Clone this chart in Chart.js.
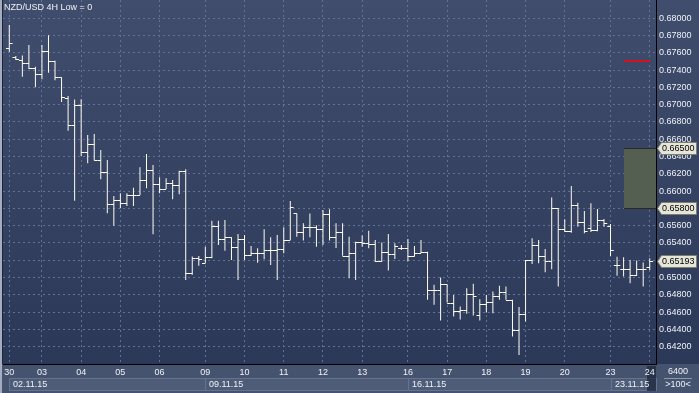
<!DOCTYPE html>
<html>
<head>
<meta charset="utf-8">
<script src="https://cdn.jsdelivr.net/npm/chart.js@4.4.0/dist/chart.umd.min.js"></script>
<style>
  html, body { margin: 0; padding: 0; background: #2d3958; }
  canvas { display: block; }
</style>
</head>
<body>
<canvas id="chart" width="699" height="393"></canvas>
<script>
// NZD/USD 4H - barras OHLC

const openP = [0.67658,0.67554,0.67516,0.67481,0.67423,0.67354,0.67616,0.67508,0.67316,0.6708,
  0.66763,0.66995,0.66452,0.66544,0.66362,0.66221,0.65851,0.65897,0.65859,0.6596,
  0.6596,0.66128,0.66244,0.66079,0.66028,0.6609,0.66067,0.66236,0.65057,0.65231,
  0.65165,0.65235,0.65596,0.65443,0.65466,0.6535,0.65443,0.65258,0.65288,0.65281,
  0.65319,0.65319,0.65327,0.65435,0.65742,0.65527,0.65582,0.65582,0.65558,0.65735,
  0.65473,0.65531,0.65253,0.65281,0.65408,0.65404,0.65388,0.65188,0.65299,0.65273,
  0.65346,0.65339,0.65253,0.65281,0.65296,0.64857,0.64857,0.64923,0.6471,0.64614,
  0.64626,0.64808,0.64561,0.64691,0.64722,0.64788,0.64831,0.64742,0.64392,0.64577,
  0.65204,0.65377,0.6525,0.65196,0.658,0.65558,0.65535,0.65838,0.65638,0.65573,
  0.6555,0.65665,0.656,0.6514,0.651,0.651,0.65027,0.651,0.65119];

const highP = [0.6792,0.67562,0.67568,0.67689,0.67438,0.67689,0.67801,0.67508,0.67316,0.67099,
  0.67059,0.67061,0.66649,0.6666,0.66475,0.6636,0.65943,0.65975,0.65975,0.66039,
  0.66275,0.66429,0.66302,0.66159,0.66148,0.66128,0.66236,0.66252,0.65242,0.6525,
  0.65357,0.65658,0.65658,0.65666,0.65466,0.65504,0.65493,0.65365,0.65339,0.65558,
  0.65466,0.65493,0.65582,0.65884,0.65742,0.65627,0.65742,0.65605,0.65782,0.65789,
  0.65628,0.65628,0.65473,0.65415,0.65485,0.65542,0.65435,0.65404,0.65504,0.65396,
  0.65377,0.65446,0.65365,0.65435,0.65299,0.64916,0.65001,0.64923,0.64799,0.64664,
  0.64877,0.64927,0.64749,0.64799,0.64838,0.64904,0.64896,0.64742,0.64658,0.65204,
  0.65454,0.65435,0.65331,0.65927,0.658,0.65673,0.66058,0.65865,0.65769,0.65858,
  0.65792,0.65677,0.6562,0.6524,0.65235,0.65204,0.65196,0.65173,0.65223];

const lowP = [0.67612,0.67516,0.67323,0.67412,0.672,0.67292,0.67369,0.67281,0.6703,0.66698,
  0.65889,0.66406,0.66321,0.66355,0.66136,0.65743,0.656,0.65801,0.65828,0.65828,
  0.65955,0.66032,0.65501,0.65974,0.66025,0.65905,0.65963,0.64972,0.65031,0.65137,
  0.65165,0.65223,0.65377,0.65311,0.65204,0.64972,0.65204,0.6525,0.65172,0.65211,
  0.65146,0.64972,0.65281,0.65435,0.65473,0.65427,0.65466,0.65357,0.65376,0.65427,
  0.65342,0.65253,0.64992,0.64972,0.65357,0.65339,0.6518,0.65184,0.6508,0.65215,
  0.65319,0.65188,0.65242,0.65281,0.64743,0.64685,0.64503,0.6471,0.64549,0.64514,
  0.6458,0.64561,0.64503,0.64595,0.64588,0.64742,0.64742,0.64319,0.64104,0.64492,
  0.65158,0.65165,0.65062,0.65096,0.64896,0.65527,0.65519,0.65588,0.65512,0.65527,
  0.65535,0.65588,0.6525,0.6502,0.65012,0.64935,0.65019,0.64896,0.65088];

const closeP = [0.67709,0.67524,0.67478,0.67429,0.67354,0.67616,0.67508,0.67316,0.67084,0.66762,
  0.66995,0.66452,0.66544,0.66362,0.66221,0.65851,0.65897,0.65859,0.6596,0.6596,
  0.66128,0.66244,0.66079,0.66028,0.6609,0.66067,0.66236,0.65057,0.65231,0.65219,
  0.65235,0.65596,0.65443,0.65466,0.6535,0.65443,0.65258,0.65288,0.65281,0.65319,
  0.65319,0.65327,0.65435,0.65811,0.65527,0.65582,0.65582,0.65558,0.65735,0.65473,
  0.65531,0.65253,0.65281,0.65408,0.65404,0.65388,0.65188,0.65299,0.65273,0.65365,
  0.65339,0.65253,0.65281,0.65296,0.64857,0.64857,0.64923,0.6471,0.64614,0.64626,
  0.64808,0.64788,0.64691,0.64722,0.64788,0.64831,0.64742,0.64392,0.64577,0.65204,
  0.65377,0.6525,0.65196,0.658,0.65558,0.65535,0.65838,0.65638,0.65538,0.6555,
  0.65665,0.65627,0.6532,0.6514,0.651,0.65027,0.651,0.651,0.65193];

// ticks del eje X (inicio de cada dia) y semanas
const dayTickIdx = [0, 5, 11, 17, 23, 30, 36, 42, 48, 54, 61, 67, 73, 79, 85, 92, 98];
const dayLabels = ['30','03','04','05','06','09','10','11','12','13','16','17','18','19','20','23','24'];
const weekIdx = [0, 30, 61, 92];
const weekLabels = ['02.11.15', '09.11.15', '16.11.15', '23.11.15'];

// ticks del eje Y
const priceTicks = [0.642,0.644,0.646,0.648,0.650,0.652,0.654,0.656,0.658,0.660,
  0.662,0.664,0.666,0.668,0.670,0.672,0.674,0.676,0.678,0.680];

// niveles marcados
const zoneTop = 0.665;
const zoneBottom = 0.658;
const redLevel = 0.675;
const lastPrice = 0.65193;

const barColor = '#fffdf2';
const textColor = '#eef1f7';
const FONT = '"Liberation Sans", Arial, sans-serif';

const rangeData = highP.map((h, i) => ({ x: i, y: [lowP[i], h] }));

// fondo: degradado, franja inferior y cajas de semana
const backgroundPlugin = {
  id: 'backgroundPlugin',
  beforeDraw(chart) {
    const ctx = chart.ctx;
    const area = chart.chartArea;
    const xs = chart.scales.x;
    ctx.save();
    const grad = ctx.createLinearGradient(0, 0, 0, area.bottom);
    grad.addColorStop(0, '#404d6c');
    grad.addColorStop(1, '#2c3857');
    ctx.fillStyle = grad;
    ctx.fillRect(0, 0, chart.width, area.bottom);

    // franja del eje X
    ctx.fillStyle = '#46536f';
    ctx.fillRect(0, area.bottom, chart.width, chart.height - area.bottom);

    // borde izquierdo claro
    ctx.fillStyle = '#a3adbf';
    ctx.fillRect(0, 0, 2, chart.height);
    ctx.fillStyle = '#1c2436';
    ctx.fillRect(2, 0, 1, area.bottom);

    // cajas de semana
    const rowTop = area.bottom + 14;
    for (let k = 0; k < weekIdx.length; k++) {
      const x0 = Math.round(xs.getPixelForValue(weekIdx[k]));
      const x1 = k + 1 < weekIdx.length ? Math.round(xs.getPixelForValue(weekIdx[k + 1])) : area.right;
      ctx.fillStyle = '#4f5c78';
      ctx.fillRect(x0, rowTop, x1 - x0, 12);
      ctx.strokeStyle = '#66738e';
      ctx.lineWidth = 1;
      ctx.strokeRect(x0 + 0.5, rowTop + 0.5, x1 - x0, 12);
    }

    // columna oscura del dia en curso
    const xl = Math.round(xs.getPixelForValue(97.6));
    ctx.fillStyle = 'rgba(30, 40, 62, 0.75)';
    ctx.fillRect(xl, area.bottom + 2, area.right - xl, chart.height - area.bottom - 4);
    ctx.restore();
  }
};

// zona verde y linea roja
const levelsPlugin = {
  id: 'levelsPlugin',
  beforeDatasetsDraw(chart) {
    const ctx = chart.ctx;
    const xs = chart.scales.x, ys = chart.scales.y;
    const area = chart.chartArea;
    const zx = Math.round(xs.getPixelForValue(94.1));
    const yTop = Math.round(ys.getPixelForValue(zoneTop));
    const yBot = Math.round(ys.getPixelForValue(zoneBottom));
    ctx.save();
    ctx.fillStyle = '#545e51';
    ctx.fillRect(zx, yTop, area.right - zx, yBot - yTop);
    ctx.fillStyle = '#262b26';
    ctx.fillRect(zx, yTop, area.right - zx, 1);
    ctx.fillRect(zx, yBot, area.right - zx, 1);

    const ry = Math.round(ys.getPixelForValue(redLevel));
    const rx0 = Math.round(xs.getPixelForValue(94.1));
    const rx1 = Math.round(xs.getPixelForValue(98.0));
    ctx.fillStyle = '#d6111c';
    ctx.fillRect(rx0, ry - 1, rx1 - rx0, 2);
    ctx.restore();
  }
};

// marcas de apertura (izq.) y cierre (der.)
const ohlcTicks = {
  id: 'ohlcTicks',
  afterDatasetsDraw(chart) {
    const ctx = chart.ctx;
    const xs = chart.scales.x, ys = chart.scales.y;
    const area = chart.chartArea;
    ctx.save();
    ctx.beginPath();
    ctx.rect(area.left, area.top, area.right - area.left, area.bottom - area.top);
    ctx.clip();
    ctx.strokeStyle = barColor;
    ctx.lineWidth = 1;
    ctx.beginPath();
    for (let i = 0; i < openP.length; i++) {
      const x = xs.getPixelForValue(i);
      const yo = Math.round(ys.getPixelForValue(openP[i])) + 0.5;
      const yc = Math.round(ys.getPixelForValue(closeP[i])) + 0.5;
      ctx.moveTo(x - 3.3, yo);
      ctx.lineTo(x, yo);
      ctx.moveTo(x, yc);
      ctx.lineTo(x + 3.3, yc);
    }
    ctx.stroke();
    ctx.restore();
  }
};

function priceTag(ctx, y, text) {
  const x0 = 657.5, w = 39, h = 12;
  y = Math.round(y) + 0.5;
  ctx.beginPath();
  ctx.moveTo(x0, y);
  ctx.lineTo(x0 + 4, y - h / 2);
  ctx.lineTo(x0 + w, y - h / 2);
  ctx.lineTo(x0 + w, y + h / 2);
  ctx.lineTo(x0 + 4, y + h / 2);
  ctx.closePath();
  ctx.fillStyle = '#e6e6d8';
  ctx.fill();
  ctx.strokeStyle = '#7d7d74';
  ctx.lineWidth = 1;
  ctx.stroke();
  ctx.fillStyle = '#000000';
  ctx.font = '9px ' + FONT;
  ctx.textAlign = 'left';
  ctx.textBaseline = 'middle';
  ctx.fillText(text, x0 + 4.5, y + 0.5);
}

// textos: titulo, semanas, etiquetas de precio, contador
const overlayPlugin = {
  id: 'overlayPlugin',
  afterDraw(chart) {
    const ctx = chart.ctx;
    const xs = chart.scales.x, ys = chart.scales.y;
    const area = chart.chartArea;
    ctx.save();
    ctx.font = '9px ' + FONT;
    ctx.fillStyle = textColor;
    ctx.textAlign = 'left';
    ctx.textBaseline = 'middle';
    ctx.fillText('NZD/USD 4H Low = 0', 4, 8);

    const rowY = area.bottom + 20.5;
    for (let k = 0; k < weekIdx.length; k++) {
      const x0 = Math.round(xs.getPixelForValue(weekIdx[k]));
      ctx.fillText(weekLabels[k], x0 + 4, rowY);
    }

    priceTag(ctx, ys.getPixelForValue(zoneTop), zoneTop.toFixed(5));
    priceTag(ctx, ys.getPixelForValue(zoneBottom), zoneBottom.toFixed(5));
    priceTag(ctx, ys.getPixelForValue(lastPrice), lastPrice.toFixed(5));

    // contador abajo a la derecha
    ctx.fillStyle = textColor;
    ctx.font = '9px ' + FONT;
    ctx.textAlign = 'center';
    ctx.fillText('6400', 678, area.bottom + 8);
    ctx.fillText('>100<', 678, area.bottom + 21);
    ctx.fillStyle = '#8c97ab';
    ctx.fillRect(664, area.bottom + 14, 28, 1);
    ctx.restore();
  }
};

const ctx = document.getElementById('chart').getContext('2d');
const chart = new Chart(ctx, {
  type: 'bar',
  data: {
    datasets: [{
      label: 'NZD/USD',
      data: rangeData,
      backgroundColor: barColor,
      borderWidth: 0,
      barThickness: 1,
      inflateAmount: 0,
      grouped: false
    }]
  },
  options: {
    responsive: false,
    animation: false,
    devicePixelRatio: 1,
    layout: { padding: { left: 3, top: 0, right: 0, bottom: 0 } },
    plugins: {
      legend: { display: false },
      tooltip: { enabled: false },
      title: { display: false }
    },
    scales: {
      x: {
        type: 'linear',
        position: 'bottom',
        offset: false,
        min: -0.96,
        max: 98.96,
        afterFit(scale) {
          scale.height = 29;
          scale.paddingLeft = 0;
          scale.paddingRight = 0;
        },
        afterBuildTicks(scale) {
          scale.ticks = dayTickIdx.map(v => ({ value: v }));
        },
        grid: { color: '#61729a', lineWidth: 1, drawTicks: false, offset: false },
        border: { display: true, color: '#000000', width: 1, dash: [2, 3] },
        ticks: {
          autoSkip: false,
          maxRotation: 0,
          padding: 3,
          color: textColor,
          font: { family: FONT, size: 9 },
          callback: (v, i) => dayLabels[i]
        }
      },
      y: {
        type: 'linear',
        position: 'right',
        min: 0.64,
        max: 0.6821,
        afterFit(scale) {
          scale.width = 43;
          scale.paddingTop = 0;
          scale.paddingBottom = 0;
        },
        afterBuildTicks(scale) {
          scale.ticks = priceTicks.map(v => ({ value: v }));
        },
        grid: { color: '#61729a', lineWidth: 1, drawTicks: false },
        border: { display: true, color: '#000000', width: 1, dash: [2, 3] },
        ticks: {
          padding: 3,
          color: textColor,
          font: { family: FONT, size: 9 },
          callback: v => v.toFixed(5)
        }
      }
    }
  },
  plugins: [backgroundPlugin, levelsPlugin, ohlcTicks, overlayPlugin]
});
</script>
</body>
</html>
